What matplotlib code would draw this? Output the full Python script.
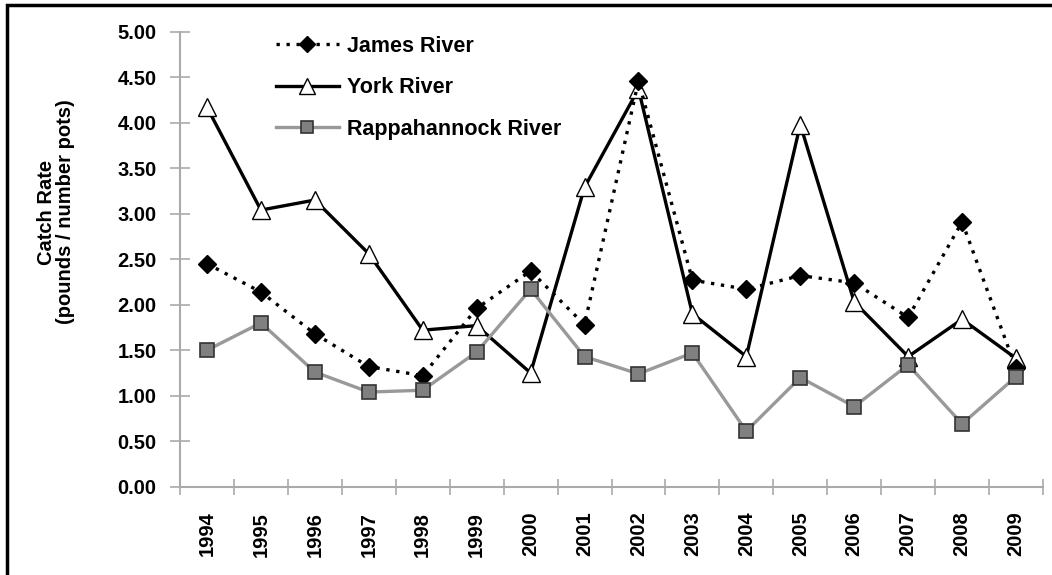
import matplotlib
matplotlib.use("Agg")
import matplotlib.pyplot as plt
from matplotlib.patches import Rectangle

years = ["1994", "1995", "1996", "1997", "1998", "1999", "2000", "2001",
         "2002", "2003", "2004", "2005", "2006", "2007", "2008", "2009"]
james = [2.45, 2.14, 1.68, 1.32, 1.22, 1.96, 2.37, 1.78,
         4.46, 2.27, 2.17, 2.32, 2.24, 1.86, 2.91, 1.30]
york = [4.17, 3.04, 3.15, 2.56, 1.72, 1.77, 1.25, 3.29,
        4.37, 1.90, 1.43, 3.98, 2.03, 1.43, 1.84, 1.41]
rapp = [1.50, 1.80, 1.26, 1.04, 1.06, 1.48, 2.17, 1.43,
        1.24, 1.47, 0.61, 1.20, 0.88, 1.34, 0.69, 1.21]
series_names = ["James River", "York River", "Rappahannock River"]
yticks = [0.0, 0.5, 1.0, 1.5, 2.0, 2.5, 3.0, 3.5, 4.0, 4.5, 5.0]

plt.rcParams['font.family'] = ['Liberation Sans', 'DejaVu Sans']

W, H = 1052, 575
fig = plt.figure(figsize=(W / 100, H / 100), dpi=100)
ax = fig.add_axes([180 / W, 1 - 486.7 / H, (1043 - 180) / W, (486.7 - 31.7) / H])

x = list(range(len(years)))
ax.plot(x, james, color='black', linestyle=(0, (1, 2)), linewidth=2.4,
        marker='D', markersize=9, markerfacecolor='black', markeredgecolor='black',
        label=series_names[0], zorder=3)
ax.plot(x, york, color='black', linestyle='-', linewidth=2.4,
        marker='^', markersize=13, markerfacecolor='white', markeredgecolor='black',
        markeredgewidth=1.0, label=series_names[1], zorder=2)
ax.plot(x, rapp, color='#999999', linestyle='-', linewidth=2.4,
        marker='s', markersize=10, markerfacecolor='#808080', markeredgecolor='#333333',
        markeredgewidth=1.2, label=series_names[2], zorder=4)

ax.set_xlim(-0.5, len(years) - 0.5)
ax.set_ylim(0, 5)
ax.set_yticks(yticks)
ax.set_yticklabels([f"{v:.2f}" for v in yticks], fontsize=14.5, fontweight='bold')
ax.set_xticks([i - 0.5 for i in range(len(years) + 1)], minor=False)
ax.set_xticklabels([])
ax.set_xticks(x, minor=True)
ax.set_xticklabels(years, minor=True, rotation=90, fontsize=14.5, fontweight='bold')
ax.tick_params(axis='x', which='major', direction='inout', length=12, width=1.2, color='#aaaaaa')
ax.tick_params(axis='x', which='minor', length=0, pad=18)
ax.tick_params(axis='y', direction='inout', length=14, width=1.2, color='#aaaaaa', pad=10)

for s in ['top', 'right']:
    ax.spines[s].set_visible(False)
for s in ['left', 'bottom']:
    ax.spines[s].set_color('#aaaaaa')
    ax.spines[s].set_linewidth(1.5)

leg = ax.legend(loc='upper left', bbox_to_anchor=(0.089, 1.034), frameon=False,
                prop={'size': 15.5, 'weight': 'bold'}, handlelength=2.9,
                labelspacing=0.95, handletextpad=0.4, markerscale=0.85)

fig.text(56 / W, 1 - 212 / H, "Catch Rate\n(pounds / number pots)", rotation=90,
         ha='center', va='center', fontsize=14.5, fontweight='bold', linespacing=1.0)

fig.patches.append(Rectangle((7 / W, -0.1), 1.2, 1 - 5 / H + 0.1, transform=fig.transFigure,
                             fill=False, edgecolor='black', linewidth=2.5))

fig.savefig("out.png", dpi=100)
